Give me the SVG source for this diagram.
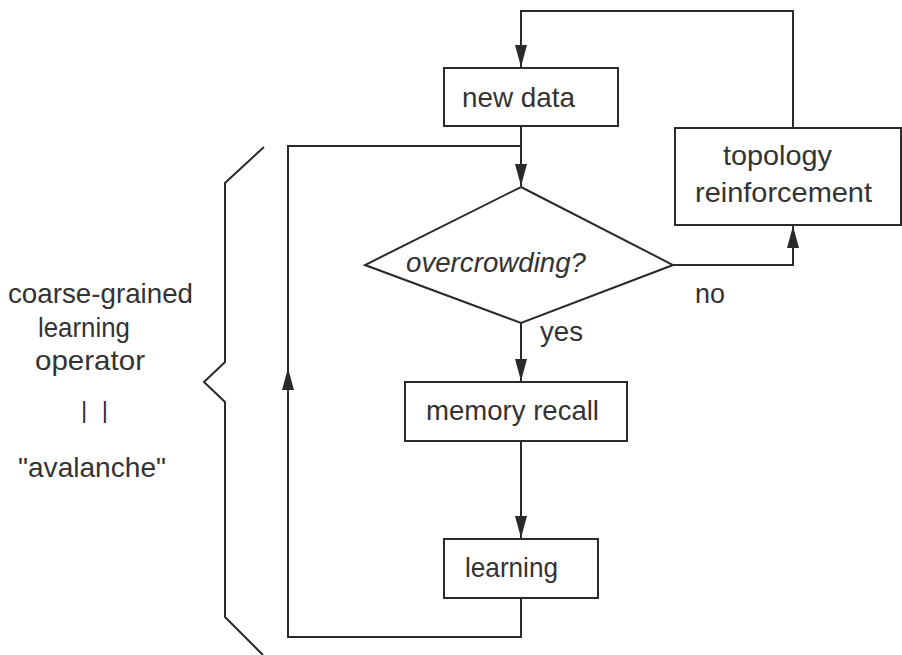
<svg xmlns="http://www.w3.org/2000/svg" width="902" height="655" viewBox="0 0 902 655">
<defs>
<style>
.box{fill:#fff;stroke:#2a2a2a;stroke-width:2}
.ln{fill:none;stroke:#2a2a2a;stroke-width:2}
.t{font-family:"Liberation Sans",Arial,sans-serif;font-size:28px;fill:#333}
</style>
<marker id="a" viewBox="0 0 22 12" refX="22" refY="6" markerWidth="22" markerHeight="12" markerUnits="userSpaceOnUse" orient="auto">
<path d="M0,0 L22,6 L0,12 Z" fill="#2a2a2a"/>
</marker>
</defs>
<rect width="902" height="655" fill="#fff"/>
<g id="connectors">
<path class="ln" d="M793,128 V11 H521 V67" marker-end="url(#a)"/>
<path class="ln" d="M521,126 V186" marker-end="url(#a)"/>
<path class="ln" d="M673,265 H793 V226" marker-end="url(#a)"/>
<path class="ln" d="M521,323 V381" marker-end="url(#a)"/>
<path class="ln" d="M521,441 V538" marker-end="url(#a)"/>
<path class="ln" d="M521,598 V637 H288 V146 H521"/>
<path class="ln" d="M288,400 V368" marker-end="url(#a)"/>
</g>
<g id="new-data">
<rect class="box" x="444" y="68" width="174" height="58"/>
<text class="t" x="462" y="107" textLength="113" lengthAdjust="spacingAndGlyphs">new data</text>
</g>
<g id="topology-reinforcement">
<rect class="box" x="675" y="128" width="226" height="97"/>
<text class="t" x="723" y="165" textLength="109" lengthAdjust="spacingAndGlyphs">topology</text>
<text class="t" x="695" y="202" textLength="177" lengthAdjust="spacingAndGlyphs">reinforcement</text>
</g>
<g id="overcrowding">
<path class="box" d="M521,187 L673,265 L521,323 L365,265 Z"/>
<text class="t" x="406" y="272" font-style="italic" textLength="180" lengthAdjust="spacingAndGlyphs">overcrowding?</text>
</g>
<g id="memory-recall">
<rect class="box" x="405" y="382" width="222" height="59"/>
<text class="t" x="426" y="420" textLength="173" lengthAdjust="spacingAndGlyphs">memory recall</text>
</g>
<g id="learning">
<rect class="box" x="444" y="539" width="154" height="59"/>
<text class="t" x="465" y="577" textLength="93" lengthAdjust="spacingAndGlyphs">learning</text>
</g>
<g id="labels">
<text class="t" x="540" y="341" textLength="43" lengthAdjust="spacingAndGlyphs">yes</text>
<text class="t" x="695" y="303" textLength="30" lengthAdjust="spacingAndGlyphs">no</text>
</g>
<g id="brace">
<path class="ln" d="M264,147 L225,183 V362 L204,382 L225,402 V617 L263,655"/>
<text class="t" x="81" y="418" style="font-size:24px" textLength="27" lengthAdjust="spacing">| |</text>
<text class="t" x="8" y="303" textLength="185" lengthAdjust="spacingAndGlyphs">coarse-grained</text>
<text class="t" x="38" y="337" textLength="92" lengthAdjust="spacingAndGlyphs">learning</text>
<text class="t" x="35" y="370" textLength="110" lengthAdjust="spacingAndGlyphs">operator</text>
<text class="t" x="18" y="477" textLength="148" lengthAdjust="spacingAndGlyphs">"avalanche"</text>
</g>
</svg>
